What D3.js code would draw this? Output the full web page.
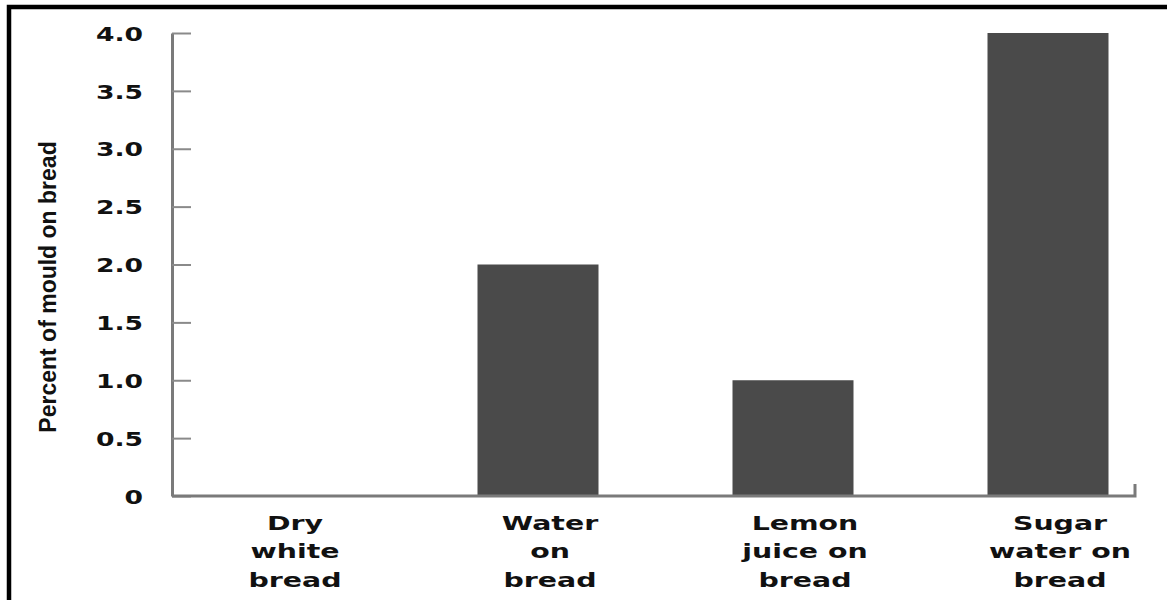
<!DOCTYPE html>
<meta charset="utf-8">
<style>
  body { margin: 0; background: #fff; }
  text { fill: #111; }
</style>

<!-- Load d3.js -->
<script src="https://d3js.org/d3.v7.min.js"></script>

<div id="my_dataviz"></div>

<script>

// data
var categories = ["Dry white bread", "Water on bread", "Lemon juice on bread", "Sugar water on bread"];
var labelLines = [["Dry", "white", "bread"], ["Water", "on", "bread"], ["Lemon", "juice on", "bread"], ["Sugar", "water on", "bread"]];
var values = [0, 2, 1, 4];
var yTicks = [0, 0.5, 1, 1.5, 2, 2.5, 3, 3.5, 4];
var yTitle = "Percent of mould on bread";

var W = 1167, H = 600;
var plotLeft = 172, plotRight = 1135, plotTop = 33, plotBottom = 496;

var svg = d3.select("#my_dataviz")
  .append("svg")
    .attr("width", W)
    .attr("height", H);

// frame (top and left edges only show in the picture)
svg.append("path")
  .attr("d", "M9,600V7H1167")
  .attr("fill", "none")
  .attr("stroke", "#000")
  .attr("stroke-width", 4.5);

// scales
var x = d3.scalePoint()
  .domain(categories)
  .range([283, 1048]);
var barW = 121;

var y = d3.scaleLinear()
  .domain([0, 4])
  .range([plotBottom, plotTop]);

// bars
svg.selectAll("rect.bar")
  .data(values)
  .enter()
  .append("rect")
    .attr("class", "bar")
    .attr("x", function(d, i) { return x(categories[i]) - barW / 2; })
    .attr("y", function(d) { return y(d); })
    .attr("width", barW)
    .attr("height", function(d) { return y(0) - y(d); })
    .attr("fill", "#4a4a4a");

// Y axis, ticks point inwards
var yAxis = svg.append("g")
  .attr("transform", "translate(" + plotLeft + ",0)")
  .call(d3.axisLeft(y)
    .tickValues(yTicks)
    .tickSizeInner(-19)
    .tickSizeOuter(0)
    .tickPadding(0)
    .tickFormat(function(d) { return d === 0 ? "0" : d.toFixed(1); }));
yAxis.select(".domain").attr("stroke", "#7a7a7a").attr("stroke-width", 3);
yAxis.selectAll(".tick line").attr("stroke", "#8a8a8a").attr("stroke-width", 2);
yAxis.selectAll(".tick text")
  .attr("x", null)
  .attr("dy", "0.36em")
  .attr("text-anchor", "end")
  .attr("transform", "translate(-29,0) scale(1.33,1)")
  .style("font-family", "'DejaVu Sans', sans-serif")
  .style("font-weight", "bold")
  .style("font-size", "20px")
  .style("fill", "#111");

// X axis line with the small upturn at the right end
svg.append("path")
  .attr("d", d3.line()([[plotLeft, plotBottom], [plotRight, plotBottom], [plotRight, plotBottom - 12]]))
  .attr("fill", "none")
  .attr("stroke", "#7a7a7a")
  .attr("stroke-width", 3);

// category labels, three lines each
var lab = svg.selectAll("g.lab")
  .data(labelLines)
  .enter()
  .append("g")
    .attr("class", "lab")
    .attr("transform", function(d, i) { return "translate(" + (x(categories[i]) + 12) + ",530) scale(1.42,1)"; });
lab.selectAll("text")
  .data(function(d) { return d; })
  .enter()
  .append("text")
    .attr("y", function(d, j) { return j * 28.5; })
    .attr("text-anchor", "middle")
    .style("font-family", "'DejaVu Sans', sans-serif")
    .style("font-weight", "bold")
    .style("font-size", "20px")
    .text(function(d) { return d; });

// Y title
svg.append("text")
  .attr("transform", "translate(56,287) rotate(-90)")
  .attr("text-anchor", "middle")
  .style("font-family", "'Liberation Sans', Arial, sans-serif")
  .style("font-weight", "bold")
  .style("font-size", "23px")
  .text(yTitle);

</script>
